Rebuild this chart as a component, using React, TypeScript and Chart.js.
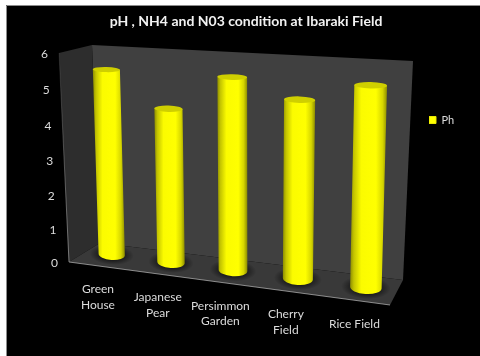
import React, { useEffect, useRef } from "react";
import { Chart, registerables } from "chart.js";

Chart.register(...registerables);

const categories = [["Green", "House"], ["Japanese", "Pear"], ["Persimmon", "Garden"], ["Cherry", "Field"], ["Rice Field"]];
const seriesName = "Ph";
const phValues = [5.5, 4.5, 5.5, 5, 5.5];
const yTicks = [0, 1, 2, 3, 4, 5, 6];

type Pt = [number, number];
type Quad = [Pt, Pt, Pt, Pt]; // left-bottom, right-bottom, right-top, left-top

// Corners of the box that the 3D plot sits in.
const FRONT_PLANE: Quad = [[69, 262], [390, 305], [400, 72], [59, 53]];
const BACK_PLANE: Quad = [[100, 243], [403, 280], [413, 61], [92, 45]];
const BAR_PLANE: Quad = [[83, 251], [401, 292], [408, 68], [76, 50.5]];

const FONT = "Lato";
const TEXT = "#dcdcdc";

// Projective map from the unit square onto a quadrilateral.
function planeMap([p0, p1, p2, p3]: Quad) {
  const dx1 = p1[0] - p2[0], dx2 = p3[0] - p2[0], sx = p0[0] - p1[0] + p2[0] - p3[0];
  const dy1 = p1[1] - p2[1], dy2 = p3[1] - p2[1], sy = p0[1] - p1[1] + p2[1] - p3[1];
  const den = dx1 * dy2 - dx2 * dy1;
  const g = (sx * dy2 - dx2 * sy) / den;
  const h = (dx1 * sy - sx * dy1) / den;
  const a = p1[0] - p0[0] + g * p1[0], b = p3[0] - p0[0] + h * p3[0];
  const d = p1[1] - p0[1] + g * p1[1], e = p3[1] - p0[1] + h * p3[1];
  return (u: number, v: number): Pt => {
    const w = g * u + h * v + 1;
    return [(a * u + b * v + p0[0]) / w, (d * u + e * v + p0[1]) / w];
  };
}

const front = planeMap(FRONT_PLANE);
const back = planeMap(BACK_PLANE);
const mid = planeMap(BAR_PLANE);

function fillPoly(ctx: CanvasRenderingContext2D, pts: Pt[], fill: string | CanvasGradient) {
  ctx.beginPath();
  pts.forEach((p, i) => (i ? ctx.lineTo(p[0], p[1]) : ctx.moveTo(p[0], p[1])));
  ctx.closePath();
  ctx.fillStyle = fill;
  ctx.fill();
}

const framePlugin = {
  id: "frame",
  afterUpdate(chart: any) {
    // The legend floats beside the plot, above the vertical middle.
    const lg = chart.legend;
    lg.left = 429;
    lg.right = 480;
    lg.top = 106;
    lg.bottom = 134;
  },
  beforeDraw(chart: any) {
    const { ctx, width, height } = chart;
    ctx.save();
    ctx.fillStyle = "#ffffff";
    ctx.fillRect(0, 0, width, height);
    ctx.fillStyle = "#000000";
    ctx.fillRect(6, 5, width - 6, height - 5);
    ctx.strokeStyle = "#8c8c8c";
    ctx.lineWidth = 1;
    ctx.beginPath();
    ctx.moveTo(6.5, height);
    ctx.lineTo(6.5, 5.5);
    ctx.lineTo(width, 5.5);
    ctx.stroke();
    ctx.restore();
  },
  beforeDatasetsDraw(chart: any) {
    const { ctx } = chart;
    const [flb, frb] = FRONT_PLANE;
    const flt = FRONT_PLANE[3];
    const [blb, brb, brt, blt] = BACK_PLANE;
    ctx.save();
    fillPoly(ctx, [blb, brb, brt, blt], "#404040");
    fillPoly(ctx, [flt, blt, blb, flb], "#2d2d2d");
    fillPoly(ctx, [flb, frb, brb, blb], "#393939");

    // Pale highlight on the near edges of the box.
    const leftEdge = ctx.createLinearGradient(0, flt[1], 0, flb[1]);
    leftEdge.addColorStop(0, "rgba(190,190,190,0.1)");
    leftEdge.addColorStop(1, "rgba(190,190,190,0.6)");
    ctx.strokeStyle = leftEdge;
    ctx.lineWidth = 1;
    ctx.beginPath();
    ctx.moveTo(flt[0], flt[1]);
    ctx.lineTo(flb[0], flb[1]);
    ctx.stroke();
    ctx.strokeStyle = "rgba(200,200,200,0.65)";
    ctx.beginPath();
    ctx.moveTo(flb[0], flb[1]);
    ctx.lineTo(frb[0], frb[1]);
    ctx.stroke();
    ctx.restore();
  },
  beforeDatasetDraw(chart: any, args: any) {
    const { ctx, chartArea: area } = chart;
    const toU = (x: number) => (x - area.left) / area.width;
    const toV = (y: number) => (area.bottom - y) / area.height;

    ctx.save();
    args.meta.data.forEach((el: any) => {
      const { x, y, base, width } = el.getProps(["x", "y", "base", "width"], true);
      const u = toU(x), half = width / area.width / 2;
      const vTop = toV(y), vBase = toV(base);
      const tl = mid(u - half, vTop), tr = mid(u + half, vTop);
      const bl = mid(u - half, vBase), br = mid(u + half, vBase);
      const depth = (v: number) => Math.abs(front(u, v)[1] - back(u, v)[1]) * 0.27;
      const ryTop = depth(vTop), ryBase = depth(vBase);
      const rotTop = Math.atan2(tr[1] - tl[1], tr[0] - tl[0]) * 0.4;
      const rotBase = Math.atan2(br[1] - bl[1], br[0] - bl[0]) * 0.5;
      const rxTop = Math.hypot(tr[0] - tl[0], tr[1] - tl[1]) / 2;
      const rxBase = Math.hypot(br[0] - bl[0], br[1] - bl[1]) / 2;
      const cxTop = (tl[0] + tr[0]) / 2, cyTop = (tl[1] + tr[1]) / 2;
      const cxBase = (bl[0] + br[0]) / 2, cyBase = (bl[1] + br[1]) / 2;

      // Soft contact shadow on the floor.
      ctx.save();
      ctx.translate(cxBase, cyBase);
      ctx.rotate(rotBase);
      ctx.scale(1, (ryBase + 5) / (rxBase + 9));
      const halo = ctx.createRadialGradient(0, 0, rxBase * 0.7, 0, 0, rxBase + 9);
      halo.addColorStop(0, "rgba(0,0,0,0.65)");
      halo.addColorStop(1, "rgba(0,0,0,0)");
      ctx.fillStyle = halo;
      ctx.beginPath();
      ctx.arc(0, 0, rxBase + 9, 0, Math.PI * 2);
      ctx.fill();
      ctx.restore();

      // Shaded body with the rounded foot.
      const shade = ctx.createLinearGradient(Math.min(tl[0], bl[0]), 0, Math.max(tr[0], br[0]), 0);
      shade.addColorStop(0, "#8e8e00");
      shade.addColorStop(0.1, "#c4c400");
      shade.addColorStop(0.3, "#fbfb00");
      shade.addColorStop(0.7, "#ffff00");
      shade.addColorStop(0.88, "#d6d600");
      shade.addColorStop(1, "#8e8e00");
      ctx.fillStyle = shade;
      ctx.beginPath();
      ctx.moveTo(cxTop - rxTop * Math.cos(rotTop), cyTop - rxTop * Math.sin(rotTop));
      ctx.lineTo(cxTop + rxTop * Math.cos(rotTop), cyTop + rxTop * Math.sin(rotTop));
      ctx.ellipse(cxBase, cyBase, rxBase, ryBase, rotBase, 0, Math.PI);
      ctx.closePath();
      ctx.fill();

      // Flat cap, slightly darker than the body.
      ctx.fillStyle = "#cfcf00";
      ctx.beginPath();
      ctx.ellipse(cxTop, cyTop, rxTop, ryTop, rotTop, 0, Math.PI * 2);
      ctx.fill();
    });
    ctx.restore();
    return false;
  },
  afterDatasetsDraw(chart: any) {
    const { ctx, chartArea: area, scales } = chart;
    ctx.save();
    ctx.fillStyle = TEXT;
    ctx.textAlign = "center";
    ctx.textBaseline = "middle";
    ctx.font = `12px ${FONT}`;

    yTicks.forEach((tick) => {
      const v = (area.bottom - scales.y.getPixelForValue(tick)) / area.height;
      const p = front(0, v);
      ctx.fillText(String(tick), p[0] - 14.5, p[1] + 1);
    });

    categories.forEach((lines, i) => {
      const u = (scales.x.getPixelForValue(i) - area.left) / area.width;
      const p = front(u, 0);
      lines.forEach((line, k) => {
        ctx.fillText(line, p[0], p[1] + 23.5 + k * 15.5);
      });
    });
    ctx.restore();
  },
};

export default function App() {
  const canvasRef = useRef<HTMLCanvasElement>(null);

  useEffect(() => {
    const chart = new Chart(canvasRef.current!, {
      type: "bar",
      data: {
        labels: categories,
        datasets: [
          {
            label: seriesName,
            data: phValues,
            backgroundColor: "#ffff00",
            borderColor: "#e6e600",
            borderWidth: 1,
            categoryPercentage: 1,
            barPercentage: 0.45,
          },
        ],
      },
      options: {
        responsive: false,
        animation: false,
        layout: { padding: { left: 12 } },
        scales: {
          x: { display: false, ticks: { autoSkip: false } },
          y: { display: false, min: 0, max: 6 },
        },
        plugins: {
          tooltip: { enabled: false },
          title: {
            display: true,
            text: "pH , NH4 and N03 condition at Ibaraki Field",
            color: "#f2f2f2",
            font: { family: FONT, size: 14, weight: "bold" },
            padding: { top: 13, bottom: 8 },
          },
          legend: {
            position: "right",
            labels: {
              boxWidth: 7,
              boxHeight: 7,
              padding: 0,
              color: TEXT,
              font: { family: FONT, size: 11 },
            },
          },
        },
      },
      plugins: [framePlugin],
    } as any);
    return () => chart.destroy();
  }, []);

  return (
    <div style={{ position: "fixed", left: 0, top: 0, width: 480, height: 356 }}>
      <canvas ref={canvasRef} width={480} height={356} style={{ display: "block" }} />
    </div>
  );
}
